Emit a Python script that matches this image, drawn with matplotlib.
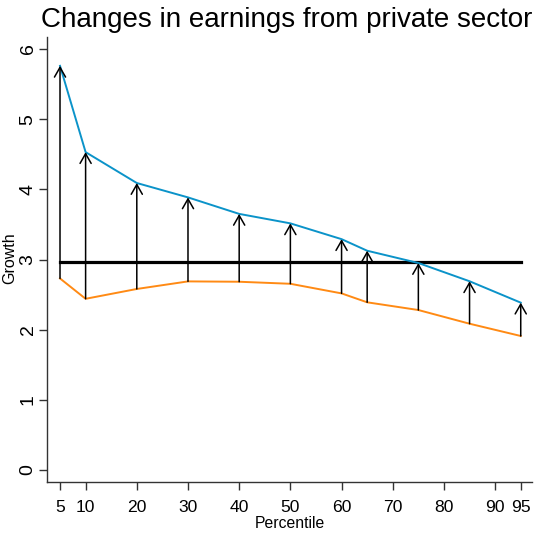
import matplotlib
matplotlib.use("Agg")
import matplotlib.pyplot as plt

plt.rcParams["font.family"] = ["Liberation Sans", "DejaVu Sans"]

# Earnings growth by percentile
percentiles = [5, 10, 20, 30, 40, 50, 60, 65, 75, 85, 95]
growth_after = [5.76, 4.53, 4.09, 3.885, 3.65, 3.515, 3.29, 3.125, 2.95, 2.69, 2.385]
growth_before = [2.73, 2.44, 2.58, 2.688, 2.683, 2.654, 2.517, 2.39, 2.28, 2.085, 1.91]
reference_level = 2.965

x_ticks = [5, 10, 20, 30, 40, 50, 60, 70, 80, 90, 95]
x_tick_labels = ["5", "10", "20", "30", "40", "50", "60", "70", "80", "90", "95"]
y_ticks = [0, 1, 2, 3, 4, 5, 6]
y_tick_labels = ["0", "1", "2", "3", "4", "5", "6"]

W, H = 536, 533
fig = plt.figure(figsize=(W / 100, H / 100), dpi=100)
left, right, top, bottom = 46.7, 532.0, 36.7, 482.3
ax = fig.add_axes([left / W, (H - bottom) / H, (right - left) / W, (bottom - top) / H])

ax.set_xlim(2.40, 97.2)
ax.set_ylim(-0.175, 6.175)

ax.plot(percentiles, growth_after, color="#0b93c9", lw=1.4, zorder=3)
ax.plot(percentiles, growth_before, color="#ff8a14", lw=1.4, zorder=3)
ax.plot([percentiles[0], percentiles[-1]], [reference_level, reference_level],
        color="black", lw=2.3, zorder=2)

for x, lo, hi in zip(percentiles, growth_before, growth_after):
    ax.annotate("", xy=(x, hi), xytext=(x, lo),
                arrowprops=dict(arrowstyle="->,head_length=0.7,head_width=0.4",
                                mutation_scale=10, lw=1.1, color="black",
                                shrinkA=0, shrinkB=0),
                zorder=4)

for side in ("top", "right"):
    ax.spines[side].set_visible(False)
for side in ("left", "bottom"):
    ax.spines[side].set_color("#333333")
    ax.spines[side].set_linewidth(1.0)

ax.set_xticks(x_ticks)
ax.set_xticklabels(x_tick_labels, fontsize=12.6)
ax.set_yticks(y_ticks)
ax.set_yticklabels(y_tick_labels, fontsize=14, rotation=90, va="center")
ax.tick_params(axis="x", length=6, width=1.0, color="#333333", pad=7.0)
ax.tick_params(axis="y", length=6, width=1.0, color="#333333", pad=1.2)

fig.text(289.5 / W, 1 - 528.5 / H, "Percentile", ha="center", va="baseline", fontsize=11.3)
fig.text(9.5 / W, 1 - 258.5 / H, "Growth", ha="center", va="center", rotation=90, fontsize=11.5)
fig.text(41.0 / W, 1 - 27.3 / H, "Changes in earnings from private sector",
         ha="left", va="baseline", fontsize=20)

fig.savefig("out.png", dpi=100)
